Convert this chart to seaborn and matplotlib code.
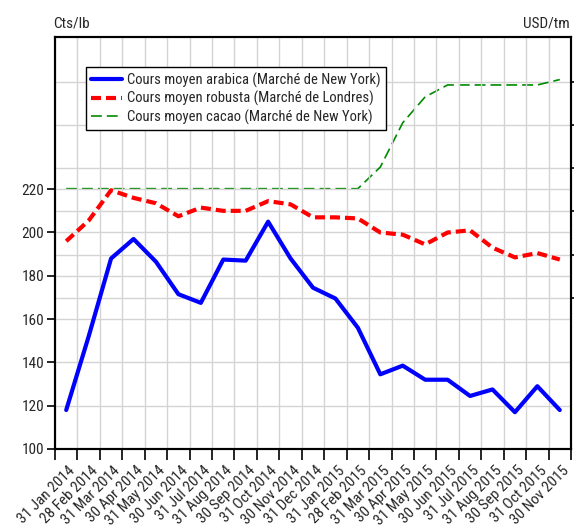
import numpy as np
import pandas as pd
import matplotlib
matplotlib.use("Agg")
import matplotlib.pyplot as plt
import matplotlib.transforms as mtransforms
import seaborn as sns
from matplotlib.lines import Line2D

# -----------------------------
# Data
# -----------------------------
months = [
    "31 Jan 2014", "28 Feb 2014", "31 Mar 2014", "30 Apr 2014", "31 May 2014",
    "30 Jun 2014", "31 Jul 2014", "31 Aug 2014", "30 Sep 2014", "31 Oct 2014",
    "30 Nov 2014", "31 Dec 2014", "31 Jan 2015", "28 Feb 2015", "31 Mar 2015",
    "30 Apr 2015", "31 May 2015", "30 Jun 2015", "31 Jul 2015", "31 Aug 2015",
    "30 Sep 2015", "31 Oct 2015", "30 Nov 2015",
]
arabica = [118, 152, 188, 197, 186.5, 171.5, 167.5, 187.5, 187, 205, 188,
           174.5, 169.5, 156, 134.5, 138.5, 132, 132, 124.5, 127.5, 117, 129, 118]
robusta = [196, 205.5, 219.5, 216, 213.5, 207.5, 211.5, 210, 210, 214.5, 213,
           207, 207, 206.5, 200, 199, 194.5, 200, 201, 193, 188.5, 190.5, 187.5]
cacao = [2905, 2905, 2905, 2905, 2905, 2905, 2905, 2905, 2905, 2905, 2905,
         2905, 2905, 2905, 3005, 3210, 3330, 3385, 3385, 3385, 3385, 3385, 3410]

left_ticks = [100, 120, 140, 160, 180, 200, 220]
right_ticks = [2400, 2600, 2800, 3000, 3200, 3400]

data = pd.DataFrame({
    "pos": np.arange(len(months)),
    "arabica": arabica,
    "robusta": robusta,
    "cacao": cacao,
})

# -----------------------------
# Style
# -----------------------------
sns.set_style("white")
plt.rcParams["font.family"] = ["Roboto Condensed", "DejaVu Sans"]
plt.rcParams["font.size"] = 11

fig = plt.figure(figsize=(5.74, 5.29), dpi=100)
ax = fig.add_axes([55 / 574, 1 - 449 / 529, 516 / 574, 412 / 529])
ax2 = ax.twinx()
ax.set_zorder(ax2.get_zorder() + 1)
ax.patch.set_visible(False)

grid_kw = dict(color="#d4d4d4", linewidth=1.0)

# right axis: cacao
sns.lineplot(data=data, x="pos", y="cacao", ax=ax2, color="#008a00",
             linewidth=1.2, legend=False)
ax2.lines[0].set_dashes((6.5, 3))
ax2.set_ylim(1700, 3607)
ax2.set_yticks(right_ticks)
ax2.set_yticklabels([])
ax2.yaxis.grid(True, **grid_kw)
ax2.set_ylabel("")

# left axis: coffee
sns.lineplot(data=data, x="pos", y="arabica", ax=ax, color="#0000ff",
             linewidth=3, legend=False)
sns.lineplot(data=data, x="pos", y="robusta", ax=ax, color="#ff0000",
             linewidth=3, legend=False)
ax.lines[1].set_dashes((2.4, 1.2))
ax.set_ylim(100, 290.3)
ax.set_yticks(left_ticks)
ax.yaxis.grid(True, **grid_kw)
ax.set_ylabel("")
ax.set_xlabel("")

# x axis: boundaries as ticks/grid, labels on the points
ax.set_xlim(-0.5, len(months) - 0.5)
ax.set_xticks(np.arange(-0.5, len(months), 1))
ax.set_xticklabels([])
ax.set_xticks(data["pos"], months, minor=True)
ax.xaxis.grid(True, which="major", **grid_kw)
ax.tick_params(axis="x", which="major", direction="out", length=8, width=1.2,
               color="black", bottom=True)
ax.tick_params(axis="x", which="minor", length=0, pad=14, labelsize=11)
shift = mtransforms.ScaledTranslation(7 / 100, 0, fig.dpi_scale_trans)
for lab in ax.get_xticklabels(minor=True):
    lab.set_rotation(45)
    lab.set_ha("right")
    lab.set_va("center")
    lab.set_rotation_mode("anchor")
    lab.set_transform(lab.get_transform() + shift)
ax2.set_xlim(-0.5, len(months) - 0.5)

ax.tick_params(axis="y", direction="out", length=6, width=1.2, color="black",
               left=True, pad=2, labelsize=11)
ax2.tick_params(axis="y", direction="out", length=6, width=1.2, color="black",
                right=True)

for a in (ax, ax2):
    for s in a.spines.values():
        s.set_color("black")
        s.set_linewidth(1.5)

# legend
handles = [
    Line2D([], [], color="#0000ff", linewidth=3),
    Line2D([], [], color="#ff0000", linewidth=3, dashes=(2.4, 1.2)),
    Line2D([], [], color="#008a00", linewidth=1.2, dashes=(6.5, 3)),
]
labels = [
    "Cours moyen arabica (Marché de New York)",
    "Cours moyen robusta (Marché de Londres)",
    "Cours moyen cacao (Marché de New York)",
]
leg = ax.legend(handles, labels, loc="upper left", bbox_to_anchor=(0.06, 0.927),
                borderaxespad=0, frameon=True, fancybox=False, framealpha=1,
                edgecolor="black", fontsize=10.5, handlelength=2.1,
                handletextpad=0.35, labelspacing=0.22, borderpad=0.35)
leg.get_frame().set_linewidth(1.0)

fig.text(53 / 574, 1 - 28 / 529, "Cts/lb", ha="left", va="baseline", fontsize=11)
fig.text(570 / 574, 1 - 28 / 529, "USD/tm", ha="right", va="baseline", fontsize=11)

fig.savefig("out.png", dpi=100)
